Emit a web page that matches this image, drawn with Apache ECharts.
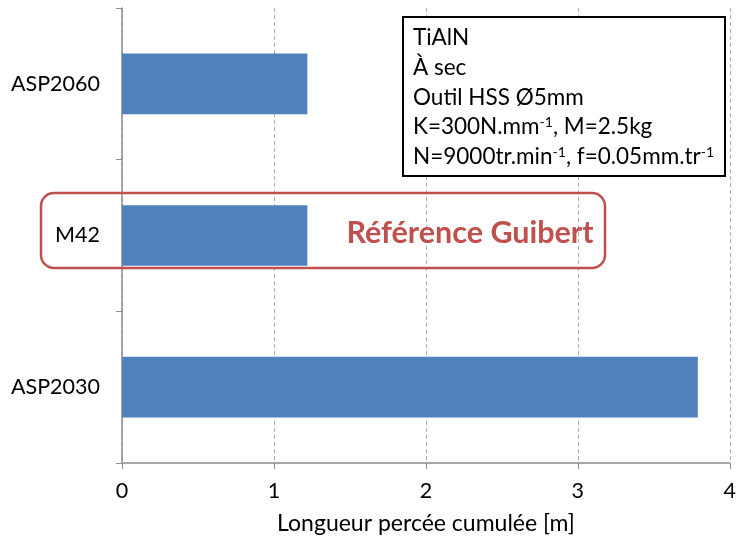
<!DOCTYPE html>
<html><head><meta charset="utf-8">
<script src="https://cdn.jsdelivr.net/npm/echarts@6/dist/echarts.min.js"></script>
<style>html,body{margin:0;padding:0;background:#fff}#c{width:739px;height:544px}</style>
</head><body><div id="c"></div>
<script>
const categories = ['ASP2030', 'M42', 'ASP2060'];
const values = [3.79, 1.22, 1.22];
const xTicks = [0, 1, 2, 3, 4];
const xTitle = 'Longueur percée cumulée [m]';
const FONT = 'Lato';

const chart = echarts.init(document.getElementById('c'), null, {renderer: 'canvas'});
const rich = {
  n: {fontFamily: FONT, fontSize: 22.5, color: '#000'},
  s: {fontFamily: FONT, fontSize: 14, color: '#000', verticalAlign: 'top', lineHeight: 15}
};
const boxLines = [
  '{n|TiAlN}',
  '{n|À sec}',
  '{n|Outil HSS Ø5mm}',
  '{n|K=300N.mm}{s|-1}{n|, M=2.5kg}',
  '{n|N=9000tr.min}{s|-1}{n|, f=0.05mm.tr}{s|-1}'
];
const lineY = [38, 68, 98, 127, 157];
const graphics = [
  {type: 'rect', z: 100, shape: {x: 403, y: 17, width: 322, height: 159},
   style: {fill: '#fff', stroke: '#000', lineWidth: 2}},
  {type: 'rect', z: 100, shape: {x: 41, y: 193, width: 564, height: 75, r: 13},
   style: {fill: 'none', stroke: '#c0504d', lineWidth: 2.5}},
  {type: 'text', z: 101, x: 470, y: 233,
   style: {text: 'Référence Guibert', fontFamily: FONT, fontSize: 30.5, fontWeight: 'bold',
           fill: '#c0504d', align: 'center', verticalAlign: 'middle'}}
];
boxLines.forEach((t, i) => graphics.push({
  type: 'text', z: 101, x: 413, y: lineY[i],
  style: {text: t, rich: rich, align: 'left', verticalAlign: 'middle'}
}));

chart.setOption({
  animation: false,
  backgroundColor: '#fff',
  grid: {left: 122, right: 9, top: 8, bottom: 81, containLabel: false},
  xAxis: {
    type: 'value', min: 0, max: 4, interval: 1,
    name: xTitle, nameLocation: 'middle', nameGap: 49,
    nameTextStyle: {fontFamily: FONT, fontSize: 23, color: '#000'},
    axisLine: {show: true, lineStyle: {color: '#8c8c8c', width: 1.5}},
    axisTick: {show: true, length: 6, lineStyle: {color: '#8c8c8c'}},
    axisLabel: {fontFamily: FONT, fontSize: 21.5, color: '#000', margin: 17,
      formatter: v => xTicks.includes(v) ? String(v) : ''},
    splitLine: {show: true, lineStyle: {color: '#b0b0b0', type: [4, 3], width: 1}}
  },
  yAxis: {
    type: 'category', data: categories,
    axisLine: {show: true, lineStyle: {color: '#8c8c8c', width: 1.5}},
    axisTick: {show: true, length: 6, interval: 0, lineStyle: {color: '#8c8c8c'}},
    axisLabel: {fontFamily: FONT, fontSize: 21.5, color: '#000', margin: 22},
    splitLine: {show: false}
  },
  series: [{
    type: 'bar', data: values, barCategoryGap: '60%',
    itemStyle: {color: '#4f81bd'}
  }],
  graphic: graphics
});
</script></body></html>
